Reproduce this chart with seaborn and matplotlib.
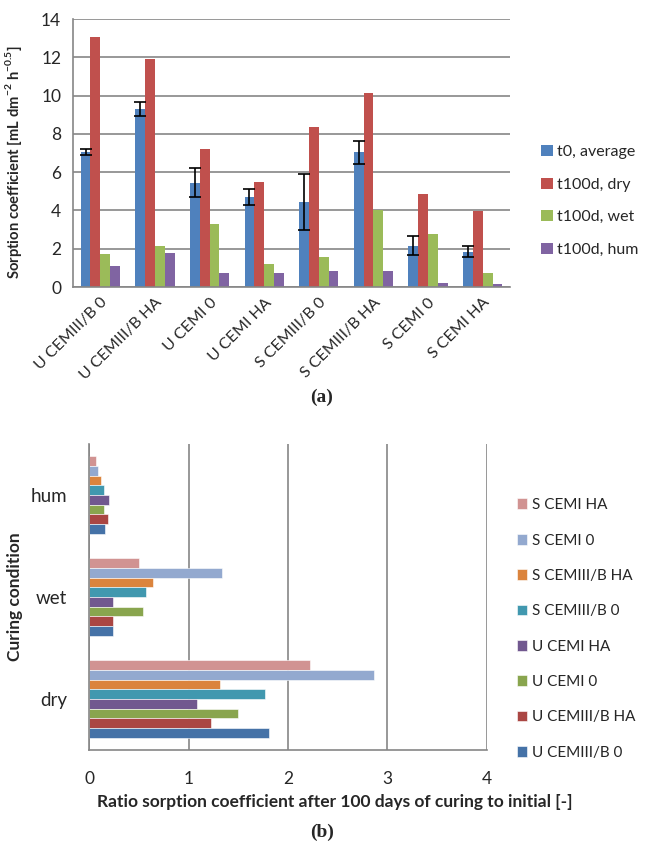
import matplotlib
matplotlib.use("Agg")
import matplotlib.pyplot as plt
import pandas as pd
import seaborn as sns

# ---- data ----
mixes = ["U CEMIII/B 0", "U CEMIII/B HA", "U CEMI 0", "U CEMI HA",
         "S CEMIII/B 0", "S CEMIII/B HA", "S CEMI 0", "S CEMI HA"]
series_a = ["t0, average", "t100d, dry", "t100d, wet", "t100d, hum"]
t0_avg = [7.05, 9.3, 5.45, 4.7, 4.45, 7.05, 2.15, 1.85]
t0_err = [0.15, 0.35, 0.75, 0.4, 1.45, 0.6, 0.5, 0.3]
t100_dry = [13.05, 11.9, 7.2, 5.5, 8.35, 10.15, 4.85, 3.95]
t100_wet = [1.7, 2.15, 3.3, 1.22, 1.55, 4.0, 2.75, 0.75]
t100_hum = [1.08, 1.77, 0.75, 0.75, 0.83, 0.83, 0.22, 0.15]

conditions = ["hum", "wet", "dry"]
ratio_dry = [1.81, 1.23, 1.50, 1.09, 1.77, 1.32, 2.86, 2.22]
ratio_wet = [0.245, 0.245, 0.54, 0.245, 0.57, 0.64, 1.34, 0.50]
ratio_hum = [0.16, 0.19, 0.148, 0.20, 0.148, 0.12, 0.09, 0.074]

colors_a = ["#4F81BD", "#C0504D", "#9BBB59", "#8064A2"]
colors_b = ["#4572A7", "#AA4643", "#89A54E", "#71588F",
            "#4198AF", "#DB843D", "#93A9CF", "#D19392"]

sns.set_style("white")
plt.rcParams["font.family"] = ["Lato", "DejaVu Sans"]
plt.rcParams["mathtext.fontset"] = "custom"
plt.rcParams["mathtext.rm"] = "Lato"
plt.rcParams["mathtext.bf"] = "Lato:bold"

W, H = 645, 843
fig = plt.figure(figsize=(W / 100, H / 100), dpi=100)
grid_c = "#868686"

# ---- (a) sorption coefficients ----
ax1 = fig.add_axes([73 / W, 1 - 287 / H, (510 - 73) / W, (287 - 19) / H])
rows = []
for s, vals in zip(series_a, [t0_avg, t100_dry, t100_wet, t100_hum]):
    for m, v in zip(mixes, vals):
        rows.append({"mix": m, "series": s, "value": v})
df_a = pd.DataFrame(rows)
sns.barplot(data=df_a, x="mix", y="value", hue="series", order=mixes,
            hue_order=series_a, palette=colors_a, width=0.72, saturation=1,
            errorbar=None, linewidth=0, ax=ax1)
bars = ax1.containers[0]
centers = [b.get_x() + b.get_width() / 2 for b in bars]
ax1.errorbar(centers, t0_avg, yerr=t0_err, fmt="none", ecolor="black",
             elinewidth=1.2, capsize=4, capthick=1.2, zorder=5)

ax1.set_ylim(0, 14)
ax1.set_yticks(range(0, 15, 2))
ax1.set_xlim(-0.5, 7.5)
ax1.yaxis.grid(True, color=grid_c, linewidth=1.2)
ax1.set_axisbelow(True)
for sp in ["top", "right"]:
    ax1.spines[sp].set_visible(False)
for sp in ["left", "bottom"]:
    ax1.spines[sp].set_color(grid_c)
    ax1.spines[sp].set_linewidth(1.2)
ax1.set_xticks([i - 0.5 for i in range(9)], minor=True)
ax1.tick_params(axis="x", which="major", length=0, pad=6)
ax1.tick_params(axis="x", which="minor", length=5, color=grid_c, width=1.2)
ax1.tick_params(axis="y", length=5, color=grid_c, width=1.2, labelsize=12.5)
ax1.set_xticks(range(len(mixes)))
ax1.set_xticklabels(mixes, rotation=45, ha="right", rotation_mode="anchor",
                    fontsize=11.5)
ax1.set_xlabel("")
ax1.set_ylabel(r"Sorption coefficient [mL dm$^{\mathbf{-2}}$ h$^{\mathbf{-0.5}}$]",
               fontsize=10.6, fontweight="bold")
ax1.yaxis.set_label_coords(-0.112, 0.465)
ax1.legend(loc="center left", bbox_to_anchor=(527 / W, 1 - 201 / H),
           bbox_transform=fig.transFigure, frameon=False, fontsize=11.5,
           handlelength=0.7, handleheight=0.7, handletextpad=0.3,
           labelspacing=1.15)
fig.text(322 / W, 1 - 397 / H, "(a)", ha="center", va="center",
         family="Liberation Serif", fontsize=14, fontweight="bold")

# ---- (b) ratio after 100 days to initial ----
ax2 = fig.add_axes([89 / W, 1 - 750 / H, (487 - 89) / W, (750 - 444) / H])
rows = []
for c, vals in zip(["dry", "wet", "hum"], [ratio_dry, ratio_wet, ratio_hum]):
    for m, v in zip(mixes, vals):
        rows.append({"condition": c, "mix": m, "ratio": v})
df_b = pd.DataFrame(rows)
pal_b = dict(zip(mixes, colors_b))
sns.barplot(data=df_b, x="ratio", y="condition", hue="mix", orient="h",
            order=conditions, hue_order=mixes[::-1], palette=pal_b,
            width=0.76, saturation=1, errorbar=None, edgecolor="white",
            linewidth=0.4, ax=ax2)
ax2.set_xlim(0, 4)
ax2.set_ylim(2.5, -0.5)
ax2.set_xticks(range(5))
ax2.xaxis.grid(True, color=grid_c, linewidth=1.2)
ax2.set_axisbelow(True)
ax2.spines["top"].set_visible(False)
ax2.spines["right"].set_visible(False)
for sp in ["left", "bottom"]:
    ax2.spines[sp].set_color(grid_c)
    ax2.spines[sp].set_linewidth(1.2)
ax2.set_yticks([-0.5, 0.5, 1.5, 2.5], minor=True)
ax2.tick_params(axis="y", which="major", length=0, pad=16, labelsize=13.5)
ax2.tick_params(axis="y", which="minor", length=5, color=grid_c, width=1.2)
ax2.tick_params(axis="x", length=5, color=grid_c, width=1.2, labelsize=12.5,
                pad=10)
ax2.set_xlabel("Ratio sorption coefficient after 100 days of curing to initial [-]",
               fontsize=12.5, fontweight="bold")
ax2.xaxis.set_label_coords(0.618, -0.145)
ax2.set_ylabel("Curing condition", fontsize=12.5, fontweight="bold")
ax2.yaxis.set_label_coords(-0.165, 0.5)
ax2.legend(loc="center left", bbox_to_anchor=(503 / W, 1 - 629 / H),
           bbox_transform=fig.transFigure, frameon=False, fontsize=11,
           handlelength=0.7, handleheight=0.7, handletextpad=0.3,
           labelspacing=1.4)
fig.text(322 / W, 1 - 832 / H, "(b)", ha="center", va="center",
         family="Liberation Serif", fontsize=14, fontweight="bold")

fig.savefig("out.png", dpi=100)
